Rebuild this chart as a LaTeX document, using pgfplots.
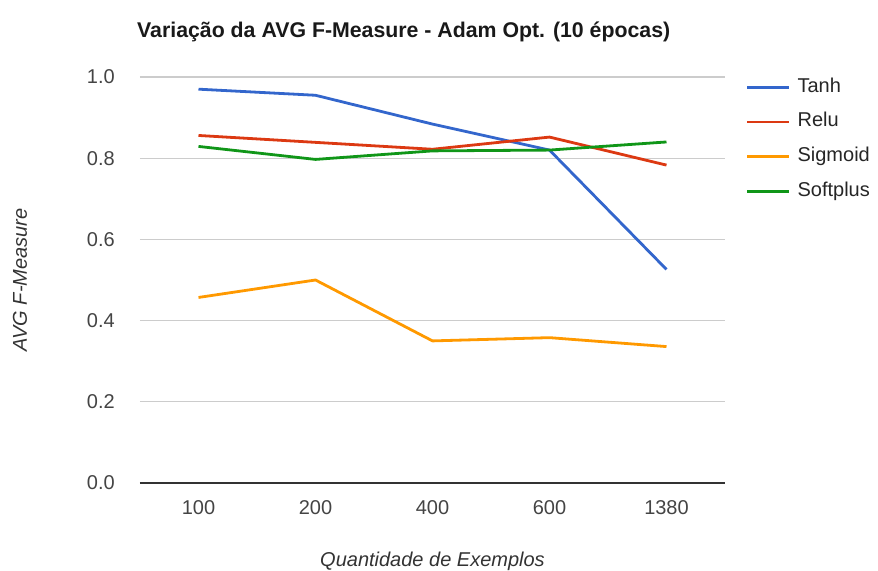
\documentclass[border=0pt]{standalone}
\usepackage{fontspec}
\setmainfont{Liberation Sans}
\usepackage{pgfplots}
\pgfplotsset{compat=1.18}

\definecolor{cTanh}{HTML}{3366CC}
\definecolor{cRelu}{HTML}{DC3912}
\definecolor{cSigmoid}{HTML}{FF9900}
\definecolor{cSoftplus}{HTML}{109618}
\definecolor{gridgray}{HTML}{CCCCCC}
\definecolor{ticktext}{HTML}{444444}
\definecolor{axisdark}{HTML}{333333}

\begin{document}
\begin{tikzpicture}
\useasboundingbox (-140bp,-88bp) rectangle (738bp,483bp);
\begin{axis}[
  at={(0,0)}, anchor=south west,
  scale only axis, width=585bp, height=406bp,
  xmin=-0.5, xmax=4.5, ymin=0, ymax=1,
  xtick={0,1,2,3,4}, xticklabels={100,200,400,600,1380},
  ytick={0,0.2,0.4,0.6,0.8,1.0},
  yticklabel style={/pgf/number format/fixed, /pgf/number format/fixed zerofill, /pgf/number format/precision=1},
  /pgf/number format/assume math mode=true,
  axis line style={draw=none},
  major tick length=0pt,
  ymajorgrids, grid style={draw=gridgray, line width=1.2bp},
  extra y ticks={0}, extra y tick labels={},
  extra y tick style={grid style={draw=axisdark, line width=1.6bp}},
  tick label style={font=\fontsize{20bp}{24bp}\selectfont, text=ticktext},
  yticklabel style={anchor=east, inner sep=0pt, xshift=-25bp},
  xticklabel style={anchor=base, inner sep=0pt, yshift=-31bp},
  legend cell align=left,
  legend style={draw=none, fill=none, inner sep=0pt, outer sep=0pt,
    at={(axis description cs:1.0355,0.997)}, anchor=north west,
    font=\fontsize{20bp}{24bp}\selectfont, text=black!85,
    nodes={inner sep=0pt, text height=14bp, text depth=4bp},
    row sep=16.7bp, column sep=7bp},
  legend image code/.code={\draw[#1] (0bp,0bp) -- (42bp,0bp);},
  every axis plot/.append style={line width=2.8bp, line join=round},
]
\addplot[cTanh] coordinates {(0,0.970) (1,0.955) (2,0.884) (3,0.820) (4,0.526)};
\addlegendentry{Tanh}
\addplot[cRelu] coordinates {(0,0.856) (1,0.839) (2,0.822) (3,0.852) (4,0.783)};
\addlegendentry{Relu}
\addplot[cSigmoid] coordinates {(0,0.457) (1,0.500) (2,0.350) (3,0.358) (4,0.336)};
\addlegendentry{Sigmoid}
\addplot[cSoftplus] coordinates {(0,0.829) (1,0.797) (2,0.818) (3,0.820) (4,0.840)};
\addlegendentry{Softplus}
\end{axis}
\node[anchor=base west, inner sep=0pt, font=\fontsize{21.3bp}{25bp}\selectfont\bfseries, text=black!90]
  at (-3bp,445bp) {Variação da AVG F-Measure - Adam Opt. (10 épocas)};
\node[rotate=90, inner sep=0pt, font=\fontsize{20bp}{24bp}\selectfont\itshape, text=black!80]
  at (-120bp,203bp) {AVG F-Measure};
\node[inner sep=0pt, font=\fontsize{20bp}{24bp}\selectfont\itshape, text=black!80]
  at (292.5bp,-78bp) {Quantidade de Exemplos};
\end{tikzpicture}
\end{document}
